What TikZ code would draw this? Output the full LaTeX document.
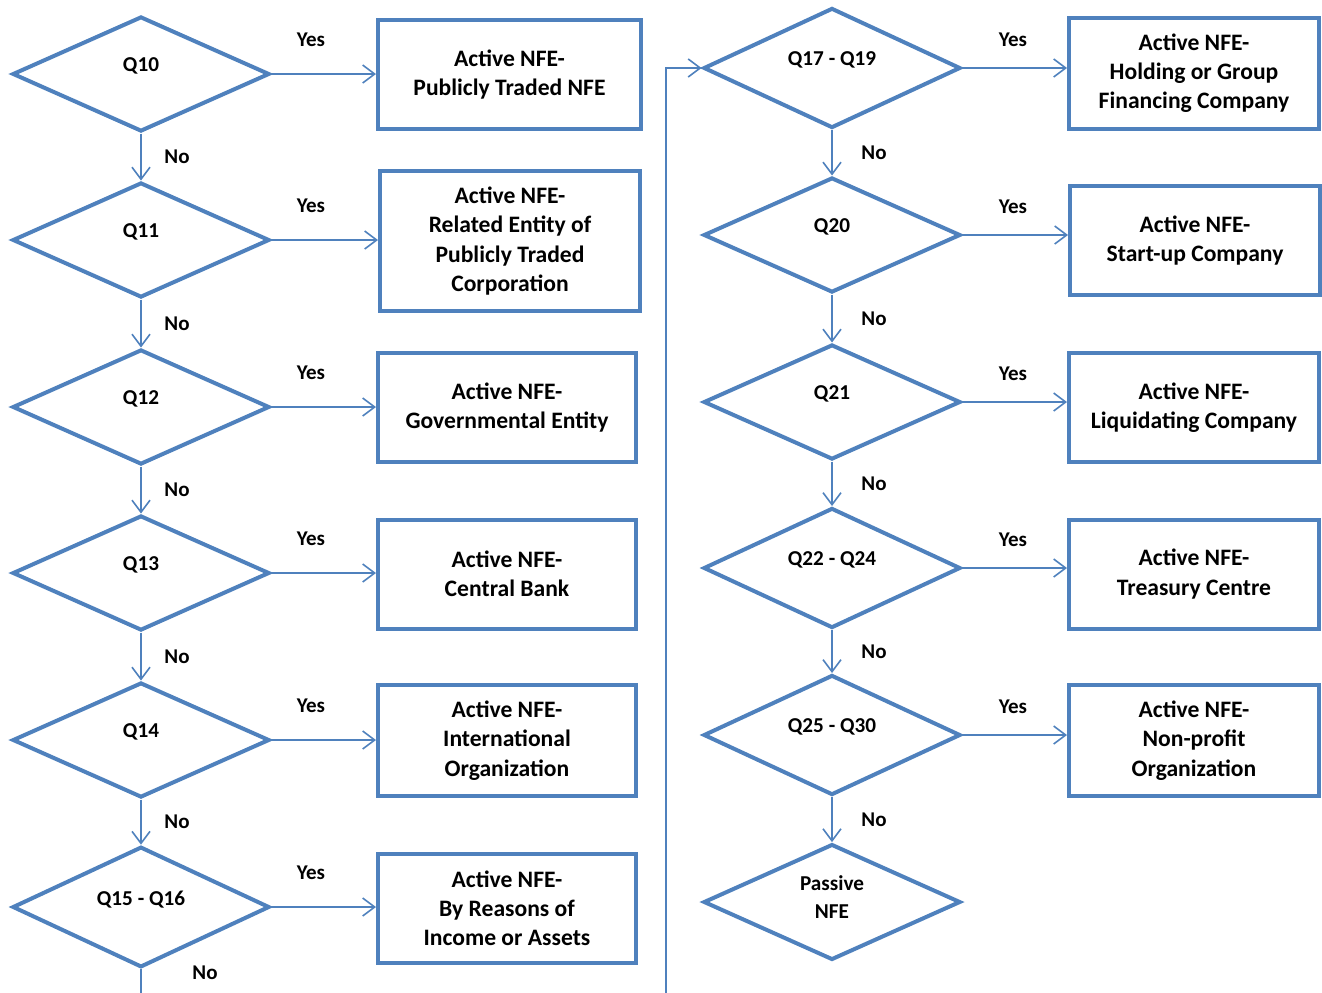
\documentclass[tikz,border=0pt]{standalone}
\usepackage{fontspec}
\setmainfont{Carlito}
\usetikzlibrary{arrows.meta,shapes.geometric,positioning}
\definecolor{flowblue}{HTML}{4F81BD}

\begin{document}
\begin{tikzpicture}[x=0.5pt,y=-0.5pt,
  every node/.style={font=\fontsize{10.5}{14.5}\selectfont\bfseries},
  decision/.style={diamond, draw=flowblue, line width=2pt, minimum width=128.5pt, minimum height=57.5pt, inner sep=0pt, text depth=9pt, align=center, font=\fontsize{10.6}{14}\selectfont\bfseries},
  outcome/.style={rectangle, draw=flowblue, line width=2pt, minimum height=54.5pt, inner xsep=3pt, inner ysep=8pt, align=center, anchor=west, font=\fontsize{11.8}{14.6}\selectfont\bfseries},
  flow/.style={draw=flowblue, line width=0.8pt, -{Straight Barb[length=6pt,width=9pt]}}]
\useasboundingbox (0,0) rectangle (1322,992);
\clip (0,0) rectangle (1322,992);
% left column: questions and outcomes
\foreach \n/\q/\y/\bx/\bw/\by/\txt in {
  10/Q10/74/376/263/74.5/{Active NFE-\\Publicly Traded NFE},
  11/Q11/240/378/260/241/{Active NFE-\\Related Entity of\\Publicly Traded\\Corporation},
  12/Q12/407/376/258/407.5/{Active NFE-\\Governmental Entity},
  13/Q13/573/376/258/574/{Active NFE-\\Central Bank},
  14/Q14/740/376/258/740.5/{Active NFE-\\International\\Organization},
  15/{Q15 - Q16}/907/376/258/908/{Active NFE-\\By Reasons of\\Income or Assets}} {
  \node[decision] (q\n) at (141,\y) {\q};
  \node[outcome, minimum width={\bw*0.5pt}] (b\n) at (\bx,\by) {\txt};
  \draw[flow] (q\n.east) -- (q\n.east -| b\n.west);
  \node (y\n) at (311,\y-34) {Yes};
}
% right column: questions and outcomes
\foreach \n/\q/\y/\bx/\bw/\by/\txt in {
  17/{Q17 - Q19}/68/1067/250/73/{Active NFE-\\Holding or Group\\Financing Company},
  20/Q20/235/1068/250/240.5/{Active NFE-\\Start-up Company},
  21/Q21/402/1067/250/407.5/{Active NFE-\\Liquidating Company},
  22/{Q22 - Q24}/568/1067/250/574/{Active NFE-\\Treasury Centre},
  25/{Q25 - Q30}/735/1067/250/740.5/{Active NFE-\\Non-profit\\Organization}} {
  \node[decision] (q\n) at (832,\y) {\q};
  \node[outcome, minimum width={\bw*0.5pt}] (b\n) at (\bx,\by) {\txt};
  \draw[flow] (q\n.east) -- (q\n.east -| b\n.west);
  \node (y\n) at (1013,\y-28) {Yes};
}
\node[decision, text depth=4.5pt] (pas) at (832,902) {Passive\\NFE};
% No branches
\foreach \a/\b in {10/11,11/12,12/13,13/14,14/15}
  \draw[flow] (q\a.south) -- node[right=8pt] (n\a) {No} (q\b.north);
\foreach \a/\b in {17/20,20/21,21/22,22/25}
  \draw[flow] (q\a.south) -- node[right=11pt] (n\a) {No} (q\b.north);
\draw[flow] (q25.south) -- node[right=11pt] (n25) {No} (pas.north);
% Q15-Q16 "No" runs on to the top of the right column
\draw[flow] (q15.south) |- (666,1030) |- (q17.west);
\node (n15) at (205,973) {No};
\end{tikzpicture}
\end{document}
